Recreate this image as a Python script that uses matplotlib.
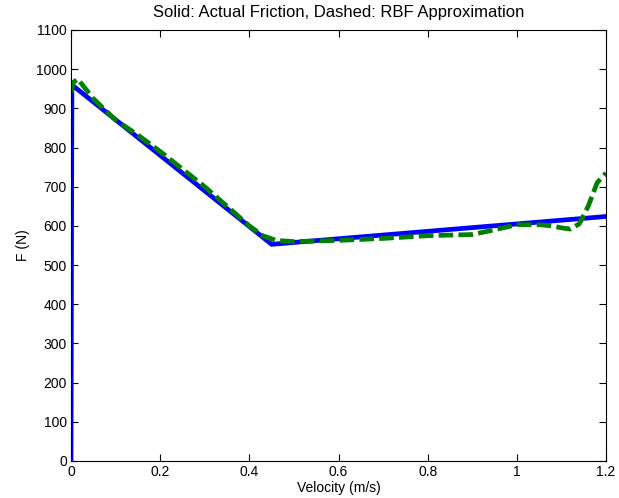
import matplotlib
matplotlib.use("Agg")
import matplotlib.pyplot as plt

plt.rcParams['font.family'] = ['Liberation Sans', 'DejaVu Sans']
plt.rcParams['font.size'] = 10

# actual friction (piecewise)
v_actual = [0.0, 0.002, 0.45, 1.2]
f_actual = [0, 960, 553, 624]

# RBF approximation
v_rbf = [0.0, 0.005, 0.015, 0.05, 0.1, 0.15, 0.2, 0.25, 0.3, 0.35, 0.4, 0.43,
         0.46, 0.5, 0.6, 0.7, 0.8, 0.9, 0.95, 1.0, 1.05, 1.08, 1.1, 1.12,
         1.14, 1.16, 1.18, 1.2]
f_rbf = [940, 966, 975, 925, 870, 832, 790, 745, 700, 650, 600, 575,
         563, 560, 563, 568, 575, 578, 590, 603, 603, 600, 595, 592,
         605, 650, 710, 735]

fig = plt.figure(figsize=(6.19, 4.98), dpi=100)
ax = fig.add_axes([0.1147, 0.0743, 0.8643, 0.8655])

ax.plot(v_actual, f_actual, color='#0000ff', linewidth=3.4, solid_joinstyle='miter')
ax.plot(v_rbf, f_rbf, color='#008000', linewidth=3.4, linestyle=(0, (3.1, 1.1)))

ax.set_xlim(0, 1.2)
ax.set_ylim(0, 1100)
ax.set_xticks([0, 0.2, 0.4, 0.6, 0.8, 1, 1.2])
ax.set_xticklabels(['0', '0.2', '0.4', '0.6', '0.8', '1', '1.2'])
ax.set_yticks(range(0, 1101, 100))
ax.tick_params(direction='in', top=True, right=True, length=5, pad=3)

ax.set_xlabel('Velocity (m/s)', labelpad=1)
ax.set_ylabel('F (N)', labelpad=4)
ax.set_title('Solid: Actual Friction, Dashed: RBF Approximation', pad=9)

plt.savefig('out.png', dpi=100)
